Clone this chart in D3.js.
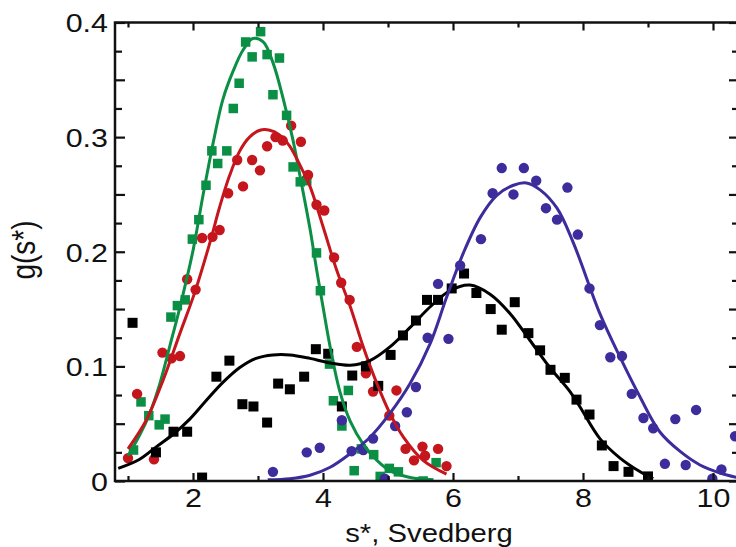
<!DOCTYPE html>
<html lang="en">
<head>
  <meta charset="UTF-8">
  <title>g(s*) distributions</title>
  <script src="https://d3js.org/d3.v7.min.js"></script>
  <style>
    body { margin: 0; background: #fff; }
    svg { display: block; }
    text { font-family: 'Liberation Sans', Arial, sans-serif; fill: #111; }
  </style>
</head>
<body>
  <div id="chart"></div>
  <script>
    // --- data ---
    const greenX = [1.085, 1.2, 1.32, 1.48, 1.57, 1.66, 1.76, 1.88, 1.99, 2.09, 2.2, 2.29, 2.38, 2.52, 2.62, 2.71, 2.81, 2.91, 3.04, 3.14, 3.23, 3.33, 3.44, 3.54, 3.65, 3.75, 3.9, 3.96, 4.1, 4.16, 4.29, 4.39, 4.48, 4.59, 4.78, 4.88, 5.02, 5.16, 5.54, 5.74];
    const greenY = [0.027, 0.069, 0.057, 0.049, 0.054, 0.143, 0.153, 0.158, 0.211, 0.228, 0.258, 0.288, 0.277, 0.288, 0.325, 0.347, 0.383, 0.370, 0.392, 0.372, 0.337, 0.369, 0.319, 0.274, 0.261, 0.262, 0.199, 0.166, 0.102, 0.070, 0.048, 0.079, 0.009, 0.028, 0.023, 0.004, 0.011, 0.008, 0.0, 0.016];
    const greenFitX = [1.0, 1.18, 1.32, 1.49, 1.64, 1.8, 2.0, 2.15, 2.31, 2.46, 2.62, 2.77, 2.92, 3.08, 3.23, 3.39, 3.54, 3.65, 3.8, 3.9, 4.0, 4.11, 4.26, 4.42, 4.62, 4.83, 5.03, 5.34, 5.7];
    const greenFitY = [0.022, 0.040, 0.057, 0.085, 0.117, 0.152, 0.201, 0.248, 0.295, 0.333, 0.358, 0.376, 0.386, 0.383, 0.365, 0.333, 0.297, 0.265, 0.220, 0.185, 0.152, 0.117, 0.078, 0.052, 0.032, 0.018, 0.009, 0.003, 0.001];

    const redX = [1.0, 1.14, 1.40, 1.53, 1.67, 1.80, 1.91, 2.04, 2.14, 2.30, 2.41, 2.54, 2.68, 2.77, 2.91, 3.03, 3.14, 3.27, 3.38, 3.51, 3.66, 3.77, 3.90, 4.02, 4.17, 4.28, 4.41, 4.52, 4.66, 4.77, 5.02, 5.13, 5.27, 5.40, 5.53, 5.57, 5.77, 5.90];
    const redY = [0.020, 0.076, 0.019, 0.112, 0.107, 0.109, 0.176, 0.167, 0.212, 0.213, 0.219, 0.251, 0.280, 0.257, 0.280, 0.271, 0.292, 0.300, 0.297, 0.310, 0.296, 0.267, 0.241, 0.236, 0.195, 0.173, 0.158, 0.117, 0.094, 0.078, 0.057, 0.079, 0.028, 0.018, 0.030, 0.022, 0.028, 0.013];
    const redFitX = [1.0, 1.28, 1.54, 1.8, 2.03, 2.26, 2.41, 2.56, 2.72, 2.87, 3.03, 3.18, 3.33, 3.49, 3.65, 3.8, 4.0, 4.21, 4.42, 4.62, 4.83, 5.03, 5.24, 5.54, 5.9];
    const redFitY = [0.028, 0.053, 0.088, 0.129, 0.165, 0.208, 0.239, 0.266, 0.288, 0.300, 0.306, 0.306, 0.302, 0.292, 0.275, 0.257, 0.222, 0.184, 0.152, 0.117, 0.085, 0.059, 0.038, 0.018, 0.006];

    const blackX = [1.07, 1.43, 1.70, 1.91, 2.14, 2.36, 2.56, 2.76, 2.93, 3.14, 3.31, 3.49, 3.71, 3.89, 4.08, 4.29, 4.45, 4.66, 4.85, 5.04, 5.23, 5.43, 5.60, 5.77, 5.98, 6.17, 6.36, 6.58, 6.75, 6.95, 7.16, 7.34, 7.50, 7.72, 7.90, 8.10, 8.29, 8.47, 8.70, 9.00];
    const blackY = [0.138, 0.025, 0.043, 0.043, 0.003, 0.091, 0.105, 0.067, 0.065, 0.051, 0.085, 0.080, 0.091, 0.115, 0.111, 0.065, 0.092, 0.100, 0.083, 0.110, 0.127, 0.140, 0.158, 0.158, 0.168, 0.181, 0.164, 0.150, 0.132, 0.156, 0.129, 0.114, 0.097, 0.090, 0.071, 0.058, 0.031, 0.013, 0.008, 0.004];
    const blackFitX = [0.85, 1.18, 1.44, 1.7, 1.95, 2.2, 2.46, 2.72, 2.97, 3.23, 3.49, 3.8, 4.11, 4.42, 4.72, 5.03, 5.34, 5.65, 5.95, 6.26, 6.57, 6.88, 7.18, 7.49, 7.8, 7.95, 8.26, 8.57, 8.88, 9.08];
    const blackFitY = [0.011, 0.019, 0.030, 0.041, 0.054, 0.070, 0.086, 0.099, 0.107, 0.110, 0.110, 0.107, 0.103, 0.101, 0.105, 0.117, 0.134, 0.152, 0.166, 0.171, 0.163, 0.146, 0.123, 0.099, 0.078, 0.065, 0.037, 0.020, 0.008, 0.002];

    const blueX = [3.23, 3.75, 3.95, 4.29, 4.44, 4.62, 4.77, 4.95, 5.11, 5.29, 5.43, 5.61, 5.77, 5.93, 6.11, 6.43, 6.61, 6.75, 6.93, 7.09, 7.28, 7.43, 7.60, 7.76, 7.92, 8.10, 8.26, 8.42, 8.60, 8.75, 8.93, 9.08, 9.26, 9.42, 9.58, 9.74, 9.99, 10.13, 10.34];
    const blueY = [0.008, 0.025, 0.029, 0.053, 0.026, 0.027, 0.037, 0.002, 0.048, 0.060, 0.082, 0.125, 0.172, 0.124, 0.188, 0.211, 0.251, 0.273, 0.250, 0.273, 0.262, 0.238, 0.228, 0.256, 0.215, 0.168, 0.136, 0.108, 0.109, 0.076, 0.055, 0.046, 0.015, 0.054, 0.014, 0.062, 0.002, 0.010, 0.039];
    const blueFitX = [3.15, 3.49, 3.8, 4.11, 4.42, 4.72, 5.03, 5.34, 5.65, 5.9, 6.16, 6.42, 6.67, 6.93, 7.13, 7.34, 7.6, 7.85, 8.26, 8.57, 8.88, 9.18, 9.49, 9.8, 10.11, 10.45];
    const blueFitY = [0.001, 0.002, 0.005, 0.012, 0.024, 0.038, 0.059, 0.085, 0.120, 0.160, 0.199, 0.230, 0.249, 0.258, 0.260, 0.254, 0.238, 0.208, 0.146, 0.108, 0.073, 0.043, 0.026, 0.014, 0.007, 0.002];

    const xMajorTicks = [2, 4, 6, 8, 10];
    const xTickLabels = ["2", "4", "6", "8", "10"];
    const xMinorTicks = [1, 3, 5, 7, 9];
    const yLabelTicks = [0, 0.1, 0.2, 0.3, 0.4];
    const yTickLabels = ["0", "0.1", "0.2", "0.3", "0.4"];
    const yMidTicks = [0.05, 0.15, 0.25, 0.35];
    const yMinorTicks = [0.025, 0.075, 0.125, 0.175, 0.225, 0.275, 0.325, 0.375];

    // --- layout ---
    const W = 736, H = 547;
    const margin = { top: 22.5, left: 115 };
    const width = 624, height = 458.5;
    const stretch = 1.17; // reference text is a bit wider than Arial

    const svgRoot = d3.select("#chart").append("svg")
      .attr("width", W).attr("height", H);
    const svg = svgRoot.append("g")
      .attr("transform", `translate(${margin.left},${margin.top})`);

    const x = d3.scaleLinear().domain([0.8, 10.4]).range([0, width]);
    const y = d3.scaleLinear().domain([0, 0.4]).range([height, 0]);

    svg.append("clipPath").attr("id", "plot")
      .append("rect").attr("width", width).attr("height", height);

    const series = [
      { xs: greenX, ys: greenY, fx: greenFitX, fy: greenFitY, color: "#0b8f45", shape: "square" },
      { xs: redX, ys: redY, fx: redFitX, fy: redFitY, color: "#c4161c", shape: "circle" },
      { xs: blackX, ys: blackY, fx: blackFitX, fy: blackFitY, color: "#000000", shape: "square" },
      { xs: blueX, ys: blueY, fx: blueFitX, fy: blueFitY, color: "#3d2d9c", shape: "circle" }
    ];

    const line = d3.line()
      .x(d => x(d[0]))
      .y(d => y(d[1]))
      .curve(d3.curveCatmullRom.alpha(0.5));

    const plot = svg.append("g").attr("clip-path", "url(#plot)");

    series.forEach(s => {
      const pts = s.xs.map((v, i) => [v, s.ys[i]]);
      const g = plot.append("g").attr("fill", s.color);
      if (s.shape === "square") {
        const sz = s.color === "#000000" ? 10 : 9.5;
        g.selectAll("rect").data(pts).enter().append("rect")
          .attr("x", d => x(d[0]) - sz / 2)
          .attr("y", d => y(d[1]) - sz / 2)
          .attr("width", sz).attr("height", sz);
      } else {
        g.selectAll("circle").data(pts).enter().append("circle")
          .attr("cx", d => x(d[0]))
          .attr("cy", d => y(d[1]))
          .attr("r", 5.2);
      }
    });

    series.forEach(s => {
      const fit = s.fx.map((v, i) => [v, s.fy[i]]);
      plot.append("path")
        .attr("d", line(fit))
        .attr("fill", "none")
        .attr("stroke", s.color)
        .attr("stroke-width", 3);
    });

    // --- axes (ticks point inward) ---
    function styleTicks(g) {
      g.select(".domain").remove();
      g.selectAll("line").attr("stroke", "#111").attr("stroke-width", 2.2);
    }

    const bottomMajor = svg.append("g").attr("transform", `translate(0,${height})`)
      .call(d3.axisBottom(x).tickValues(xMajorTicks).tickSize(-8).tickPadding(8)
        .tickFormat((d, i) => xTickLabels[i]));
    svg.append("g").attr("transform", `translate(0,${height})`)
      .call(d3.axisBottom(x).tickValues(xMinorTicks).tickSize(-5).tickFormat(""))
      .call(styleTicks);
    svg.append("g")
      .call(d3.axisTop(x).tickValues(xMajorTicks).tickSize(-8).tickFormat(""))
      .call(styleTicks);
    svg.append("g")
      .call(d3.axisTop(x).tickValues(xMinorTicks).tickSize(-5).tickFormat(""))
      .call(styleTicks);

    const leftLabels = svg.append("g")
      .call(d3.axisLeft(y).tickValues(yLabelTicks).tickSize(-10).tickPadding(7)
        .tickFormat((d, i) => yTickLabels[i]));
    svg.append("g")
      .call(d3.axisLeft(y).tickValues(yMidTicks).tickSize(-10).tickFormat(""))
      .call(styleTicks);
    svg.append("g")
      .call(d3.axisLeft(y).tickValues(yMinorTicks).tickSize(-7).tickFormat(""))
      .call(styleTicks);
    svg.append("g").attr("transform", `translate(${width},0)`)
      .call(d3.axisRight(y).tickValues(yLabelTicks.concat(yMidTicks)).tickSize(-10).tickFormat(""))
      .call(styleTicks);
    svg.append("g").attr("transform", `translate(${width},0)`)
      .call(d3.axisRight(y).tickValues(yMinorTicks).tickSize(-7).tickFormat(""))
      .call(styleTicks);

    [bottomMajor, leftLabels].forEach(g => {
      styleTicks(g);
      g.selectAll("text")
        .attr("font-size", 26)
        .attr("fill", "#111")
        .each(function () {
          const t = d3.select(this);
          t.attr("textLength", this.getComputedTextLength() * stretch)
            .attr("lengthAdjust", "spacingAndGlyphs");
        });
    });
    leftLabels.selectAll("text").attr("dy", "0.36em");

    // frame
    svg.append("rect")
      .attr("width", width).attr("height", height)
      .attr("fill", "none").attr("stroke", "#111").attr("stroke-width", 2.5);

    // axis titles
    const xTitle = svgRoot.append("text")
      .attr("x", 429).attr("y", 542)
      .attr("text-anchor", "middle")
      .attr("font-size", 25)
      .text("s*, Svedberg");
    xTitle.attr("textLength", xTitle.node().getComputedTextLength() * stretch)
      .attr("lengthAdjust", "spacingAndGlyphs");

    svgRoot.append("text")
      .attr("transform", `translate(35,250) rotate(-90) scale(1,${stretch})`)
      .attr("text-anchor", "middle")
      .attr("font-size", 28)
      .text("g(s*)");
  </script>
</body>
</html>
